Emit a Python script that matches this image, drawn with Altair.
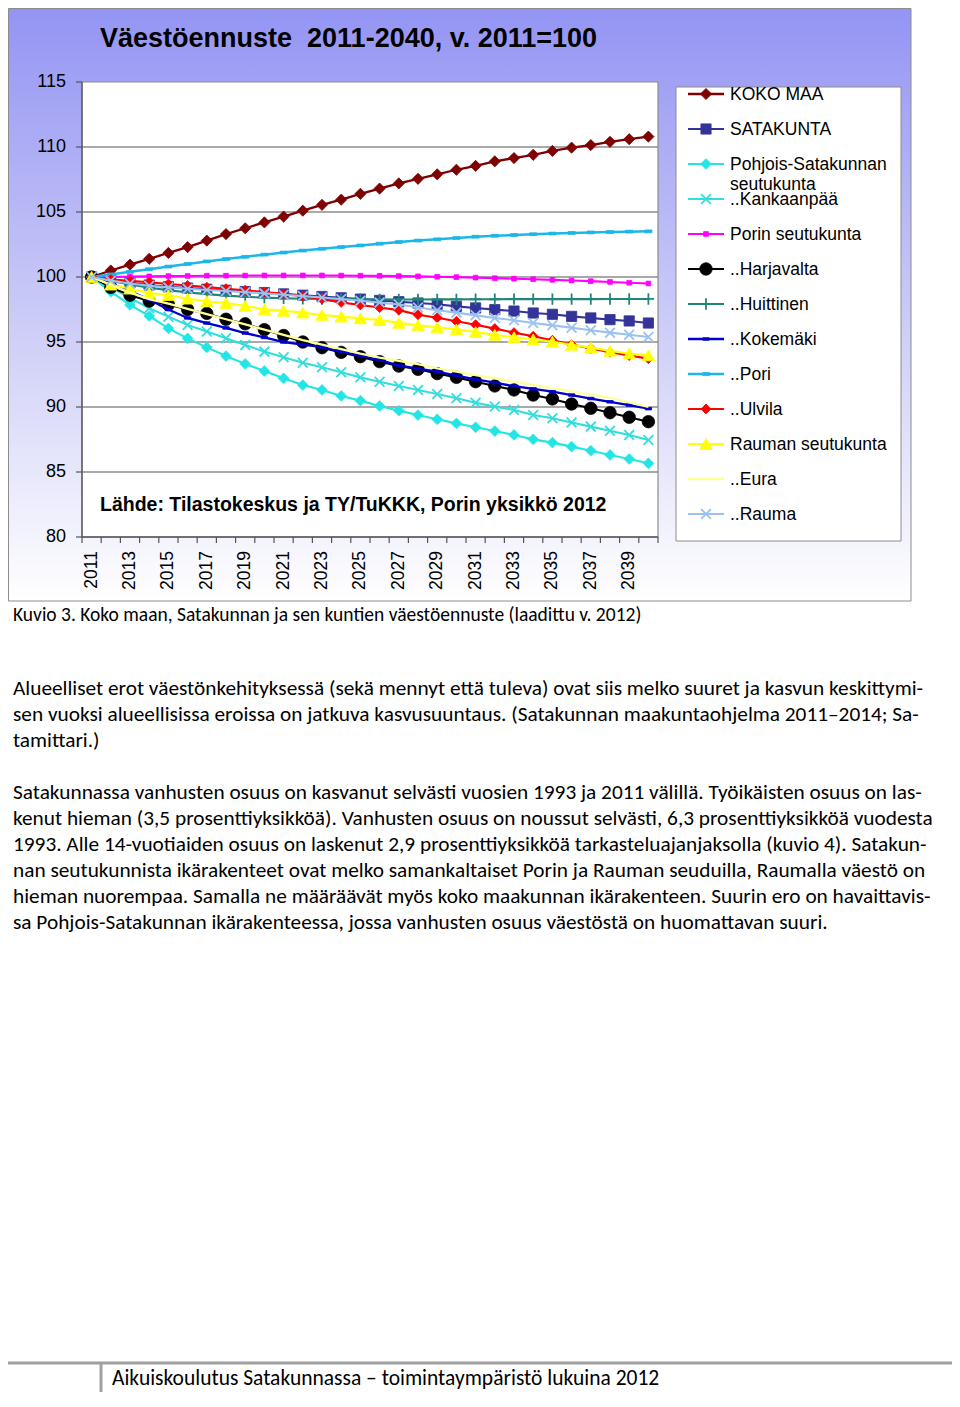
import altair as alt
import pandas as pd

# ---------------- data ----------------
years = list(range(2011, 2041))
series_names = ["KOKO MAA", "SATAKUNTA", "Pohjois-Satakunnan seutukunta", "..Kankaanpää",
                "Porin seutukunta", "..Harjavalta", "..Huittinen", "..Kokemäki", "..Pori",
                "..Ulvila", "Rauman seutukunta", "..Eura", "..Rauma"]
legend_labels = ["KOKO MAA", "SATAKUNTA", "Pohjois-Satakunnan\nseutukunta", "..Kankaanpää",
                 "Porin seutukunta", "..Harjavalta", "..Huittinen", "..Kokemäki", "..Pori",
                 "..Ulvila", "Rauman seutukunta", "..Eura", "..Rauma"]

koko_maa = [100, 100.5, 100.95, 101.4, 101.85, 102.3, 102.8, 103.3, 103.75, 104.2,
            104.65, 105.1, 105.55, 105.95, 106.4, 106.8, 107.2, 107.55, 107.9, 108.25,
            108.55, 108.9, 109.15, 109.4, 109.7, 109.95, 110.15, 110.4, 110.6, 110.8]
satakunta = [100, 99.75, 99.55, 99.38, 99.25, 99.15, 99.06, 98.98, 98.88, 98.8,
             98.7, 98.6, 98.5, 98.4, 98.3, 98.2, 98.1, 98.0, 97.9, 97.74,
             97.62, 97.49, 97.38, 97.23, 97.13, 96.97, 96.85, 96.72, 96.62, 96.46]
pohjois_sk = [100, 98.87, 97.85, 97.0, 96.05, 95.28, 94.59, 93.92, 93.31, 92.77,
              92.21, 91.69, 91.31, 90.85, 90.49, 90.08, 89.72, 89.38, 89.05, 88.74,
              88.44, 88.15, 87.85, 87.51, 87.26, 86.95, 86.64, 86.31, 86.0, 85.67]
kankaanpaa = [100, 99.2, 98.4, 97.6, 96.95, 96.31, 95.8, 95.28, 94.77, 94.26,
              93.82, 93.41, 93.05, 92.67, 92.28, 91.95, 91.62, 91.31, 91.0, 90.67,
              90.33, 90.03, 89.77, 89.38, 89.13, 88.8, 88.49, 88.18, 87.85, 87.46]
porin_sk = [100, 100.0, 100.03, 100.05, 100.07, 100.08, 100.1, 100.1, 100.11, 100.12,
            100.12, 100.12, 100.12, 100.11, 100.1, 100.09, 100.07, 100.05, 100.02, 99.99,
            99.95, 99.91, 99.87, 99.83, 99.78, 99.73, 99.68, 99.62, 99.56, 99.5]
harjavalta = [100, 99.2, 98.6, 98.15, 97.88, 97.5, 97.2, 96.75, 96.4, 95.95,
              95.5, 95.0, 94.56, 94.2, 93.87, 93.49, 93.15, 92.9, 92.57, 92.28,
              91.95, 91.62, 91.31, 90.92, 90.62, 90.23, 89.9, 89.56, 89.21, 88.87]
huittinen = [100, 99.7, 99.42, 99.18, 98.98, 98.82, 98.68, 98.57, 98.48, 98.41,
             98.36, 98.33, 98.31, 98.3, 98.29, 98.28, 98.27, 98.27, 98.28, 98.28,
             98.29, 98.29, 98.3, 98.3, 98.3, 98.3, 98.3, 98.31, 98.31, 98.31]
kokemaki = [100, 99.5, 98.9, 98.26, 97.5, 96.85, 96.46, 96.08, 95.69, 95.35,
            95.0, 94.8, 94.6, 94.25, 93.95, 93.6, 93.2, 92.95, 92.72, 92.42,
            92.13, 91.87, 91.6, 91.4, 91.18, 90.92, 90.65, 90.4, 90.15, 89.87]
pori = [100, 100.2, 100.4, 100.6, 100.8, 101.0, 101.2, 101.38, 101.55, 101.72,
        101.88, 102.03, 102.17, 102.3, 102.43, 102.56, 102.69, 102.8, 102.9, 103.0,
        103.1, 103.17, 103.23, 103.29, 103.34, 103.39, 103.43, 103.46, 103.49, 103.51]
ulvila = [100, 99.8, 99.7, 99.6, 99.46, 99.35, 99.22, 99.1, 98.98, 98.85,
          98.7, 98.52, 98.3, 98.05, 97.85, 97.65, 97.45, 97.1, 96.87, 96.59,
          96.33, 96.03, 95.72, 95.44, 95.13, 94.8, 94.5, 94.22, 93.96, 93.72]
rauman_sk = [100, 99.41, 99.1, 98.77, 98.6, 98.33, 98.13, 98.0, 97.77, 97.51,
             97.4, 97.26, 97.08, 96.95, 96.82, 96.69, 96.47, 96.28, 96.13, 95.97,
             95.77, 95.55, 95.37, 95.2, 95.02, 94.78, 94.57, 94.32, 94.12, 93.97]
eura = [100, 99.4, 98.8, 98.3, 97.95, 97.55, 97.15, 96.75, 96.35, 95.95,
        95.55, 95.15, 94.8, 94.45, 94.1, 93.8, 93.55, 93.3, 92.98, 92.72,
        92.46, 92.2, 91.95, 91.7, 91.45, 91.2, 90.95, 90.7, 90.35, 90.0]
rauma = [100, 99.72, 99.5, 99.33, 99.2, 99.1, 99.0, 98.92, 98.83, 98.74,
         98.64, 98.53, 98.42, 98.3, 98.17, 98.03, 97.88, 97.65, 97.44, 97.26,
         97.05, 96.85, 96.67, 96.46, 96.28, 96.1, 95.9, 95.72, 95.56, 95.38]

series_values = [koko_maa, satakunta, pohjois_sk, kankaanpaa, porin_sk, harjavalta,
                 huittinen, kokemaki, pori, ulvila, rauman_sk, eura, rauma]

y_ticks = [80, 85, 90, 95, 100, 105, 110, 115]
x_labels = years[::2]

title_text = "Väestöennuste\u00a0 2011-2040, v. 2011=100"
source_text = "Lähde: Tilastokeskus ja TY/TuKKK, Porin yksikkö 2012"
caption_text = "Kuvio 3. Koko maan, Satakunnan ja sen kuntien väestöennuste (laadittu v. 2012)"
para1 = [
    "Alueelliset erot väestönkehityksessä (sekä mennyt että tuleva) ovat siis melko suuret ja kasvun keskittymi-",
    "sen vuoksi alueellisissa eroissa on jatkuva kasvusuuntaus. (Satakunnan maakuntaohjelma 2011–2014; Sa-",
    "tamittari.)",
]
para2 = [
    "Satakunnassa vanhusten osuus on kasvanut selvästi vuosien 1993 ja 2011 välillä. Työikäisten osuus on las-",
    "kenut hieman (3,5 prosenttiyksikköä). Vanhusten osuus on noussut selvästi, 6,3 prosenttiyksikköä vuodesta",
    "1993. Alle 14-vuotiaiden osuus on laskenut 2,9 prosenttiyksikköä tarkasteluajanjaksolla (kuvio 4). Satakun-",
    "nan seutukunnista ikärakenteet ovat melko samankaltaiset Porin ja Rauman seuduilla, Raumalla väestö on",
    "hieman nuorempaa. Samalla ne määräävät myös koko maakunnan ikärakenteen. Suurin ero on havaittavis-",
    "sa Pohjois-Satakunnan ikärakenteessa, jossa vanhusten osuus väestöstä on huomattavan suuri.",
]
footer_text = "Aikuiskoulutus Satakunnassa – toimintaympäristö lukuina 2012"

# ---------------- styles ----------------
X_PATH = "M-1,-1L1,1M-1,1L1,-1"
PLUS_PATH = "M0,-1L0,1M-1,0L1,0"
DASH_PATH = "M-1,-0.4L1,-0.4L1,0.4L-1,0.4Z"

styles = [
    dict(color="#7F0000", shape="diamond", size=125, filled=True, lw=2.3),
    dict(color="#333399", shape="square", size=105, filled=True, lw=2.1),
    dict(color="#22E6E6", shape="diamond", size=115, filled=True, lw=2.1),
    dict(color="#33DDDD", shape=X_PATH, size=95, filled=False, lw=2.1),
    dict(color="#FF00FF", shape="square", size=22, filled=True, lw=2.1),
    dict(color="#000000", shape="circle", size=155, filled=True, lw=2.1),
    dict(color="#21857A", shape=PLUS_PATH, size=130, filled=False, lw=2.1),
    dict(color="#0000CC", shape=DASH_PATH, size=40, filled=True, lw=2.3),
    dict(color="#1CB6E8", shape=DASH_PATH, size=50, filled=True, lw=2.5),
    dict(color="#FF0000", shape="diamond", size=100, filled=True, lw=2.1),
    dict(color="#FFFF00", shape="triangle-up", size=155, filled=True, lw=2.1),
    dict(color="#FFFF99", shape=None, size=0, filled=True, lw=2.3),
    dict(color="#99C2EE", shape=X_PATH, size=95, filled=False, lw=2.1),
]

ARIAL = "Liberation Sans"
BODY = "Carlito, Lato"

W, H = 944, 1384
# plot area in chart coordinates
PX0, PX1, PY0, PY1 = 74, 650, 74, 529

xs = alt.Scale(domain=[years[0] - 0.5, years[-1] + 0.5], range=[PX0, PX1])
ys = alt.Scale(domain=[y_ticks[0], y_ticks[-1]], range=[PY1, PY0])

one = pd.DataFrame({"a": [0]})
layers = []

# outer gradient box
grad = alt.Gradient(gradient="linear", x1=0, x2=0, y1=0, y2=1,
                    stops=[alt.GradientStop(color="#9494F4", offset=0),
                           alt.GradientStop(color="#C9C9F7", offset=0.5),
                           alt.GradientStop(color="#FFFFFF", offset=1)])
layers.append(alt.Chart(one).mark_rect(fill=grad, stroke="#8C8C8C", strokeWidth=1).encode(
    x=alt.value(0.5), x2=alt.value(903), y=alt.value(0.5), y2=alt.value(593)))

# plot area
layers.append(alt.Chart(one).mark_rect(fill="white", stroke="#8C8C8C", strokeWidth=1.2).encode(
    x=alt.value(PX0), x2=alt.value(PX1), y=alt.value(PY0), y2=alt.value(PY1)))

# gridlines
grid_df = pd.DataFrame({"v": y_ticks[1:-1]})
layers.append(alt.Chart(grid_df).mark_rule(color="#8C8C8C", strokeWidth=1.3).encode(
    y=alt.Y("v:Q", scale=ys, axis=None), x=alt.value(PX0), x2=alt.value(PX1)))

# y axis line, ticks, labels
layers.append(alt.Chart(one).mark_rule(color="#555555", strokeWidth=1.3).encode(
    x=alt.value(PX0), y=alt.value(PY0), y2=alt.value(PY1)))
ytick_df = pd.DataFrame({"v": y_ticks})
layers.append(alt.Chart(ytick_df).mark_rule(color="#555555", strokeWidth=1.2).encode(
    y=alt.Y("v:Q", scale=ys, axis=None), x=alt.value(PX0 - 6), x2=alt.value(PX0)))
layers.append(alt.Chart(ytick_df).mark_text(font=ARIAL, fontSize=18, align="right",
                                            baseline="middle", color="#000000").encode(
    y=alt.Y("v:Q", scale=ys, axis=None), x=alt.value(58), text="v:Q"))

# x axis line, ticks, labels
layers.append(alt.Chart(one).mark_rule(color="#555555", strokeWidth=1.3).encode(
    x=alt.value(PX0), x2=alt.value(PX1), y=alt.value(PY1)))
xtick_df = pd.DataFrame({"b": [y - 0.5 for y in years] + [years[-1] + 0.5]})
layers.append(alt.Chart(xtick_df).mark_rule(color="#555555", strokeWidth=1.2).encode(
    x=alt.X("b:Q", scale=xs, axis=None), y=alt.value(PY1), y2=alt.value(PY1 + 6)))
xlab_df = pd.DataFrame({"yr": x_labels, "t": [str(v) for v in x_labels]})
layers.append(alt.Chart(xlab_df).mark_text(font=ARIAL, fontSize=17.5, align="right", baseline="middle",
                                           angle=270, color="#000000").encode(
    x=alt.X("yr:Q", scale=xs, axis=None), y=alt.value(543), text="t:N"))

# series
for name, vals, st in zip(series_names, series_values, styles):
    df = pd.DataFrame({"year": years, "value": vals})
    enc = dict(x=alt.X("year:Q", scale=xs, axis=None), y=alt.Y("value:Q", scale=ys, axis=None))
    layers.append(alt.Chart(df).mark_line(color=st["color"], strokeWidth=st["lw"]).encode(**enc))
    if st["shape"]:
        if st["filled"]:
            pm = alt.Chart(df).mark_point(shape=st["shape"], size=st["size"], filled=True,
                                          fill=st["color"], stroke=st["color"], strokeWidth=0.8, opacity=1)
        else:
            pm = alt.Chart(df).mark_point(shape=st["shape"], size=st["size"], filled=False,
                                          stroke=st["color"], strokeWidth=1.8, opacity=1)
        layers.append(pm.encode(**enc))

# titles inside the box
layers.append(alt.Chart(pd.DataFrame({"t": [title_text]})).mark_text(
    font=ARIAL, fontSize=27, fontWeight="bold", align="left", baseline="middle", color="#000000").encode(
    x=alt.value(92), y=alt.value(31), text="t:N"))
layers.append(alt.Chart(pd.DataFrame({"t": [source_text]})).mark_text(
    font=ARIAL, fontSize=19.5, fontWeight="bold", align="left", baseline="middle", color="#000000").encode(
    x=alt.value(92), y=alt.value(497), text="t:N"))

# legend
layers.append(alt.Chart(one).mark_rect(fill="white", stroke="#8C8C8C", strokeWidth=1).encode(
    x=alt.value(668), x2=alt.value(893), y=alt.value(79), y2=alt.value(533)))
ls = alt.Scale(domain=[0, len(series_names) - 1], range=[86, 86 + 35 * (len(series_names) - 1)])
for i, st in enumerate(styles):
    ldf = pd.DataFrame({"li": [i]})
    layers.append(alt.Chart(ldf).mark_rule(color=st["color"], strokeWidth=st["lw"]).encode(
        y=alt.Y("li:Q", scale=ls, axis=None), x=alt.value(680), x2=alt.value(716)))
    if st["shape"]:
        if st["filled"]:
            pm = alt.Chart(ldf).mark_point(shape=st["shape"], size=st["size"], filled=True,
                                           fill=st["color"], stroke=st["color"], strokeWidth=0.8, opacity=1)
        else:
            pm = alt.Chart(ldf).mark_point(shape=st["shape"], size=st["size"], filled=False,
                                           stroke=st["color"], strokeWidth=1.8, opacity=1)
        layers.append(pm.encode(y=alt.Y("li:Q", scale=ls, axis=None), x=alt.value(698)))
leg_df = pd.DataFrame({"li": list(range(len(legend_labels))), "t": legend_labels})
layers.append(alt.Chart(leg_df).mark_text(font=ARIAL, fontSize=17.5, align="left", baseline="alphabetic",
                                          lineBreak="\n", lineHeight=20, dy=6, color="#000000").encode(
    y=alt.Y("li:Q", scale=ls, axis=None), x=alt.value(722), text="t:N"))

# caption and body text
layers.append(alt.Chart(pd.DataFrame({"t": [caption_text]})).mark_text(
    font=BODY, fontSize=19.5, align="left", baseline="middle", color="#000000").encode(
    x=alt.value(5), y=alt.value(607), text="t:N"))
p1 = pd.DataFrame({"i": list(range(len(para1))), "t": para1})
layers.append(alt.Chart(p1).mark_text(font=BODY, fontSize=21.3, align="left", baseline="middle",
                                      color="#000000").encode(
    y=alt.Y("i:Q", scale=alt.Scale(domain=[0, len(para1) - 1], range=[681, 681 + 26 * (len(para1) - 1)]), axis=None),
    x=alt.value(5), text="t:N"))
p2 = pd.DataFrame({"i": list(range(len(para2))), "t": para2})
layers.append(alt.Chart(p2).mark_text(font=BODY, fontSize=21.3, align="left", baseline="middle",
                                      color="#000000").encode(
    y=alt.Y("i:Q", scale=alt.Scale(domain=[0, len(para2) - 1], range=[785, 785 + 26 * (len(para2) - 1)]), axis=None),
    x=alt.value(5), text="t:N"))

# footer
layers.append(alt.Chart(one).mark_rule(color="#A0A0A0", strokeWidth=3).encode(
    x=alt.value(0), x2=alt.value(W), y=alt.value(1355)))
layers.append(alt.Chart(one).mark_rule(color="#A0A0A0", strokeWidth=3).encode(
    x=alt.value(93), y=alt.value(1355), y2=alt.value(H)))
layers.append(alt.Chart(pd.DataFrame({"t": [footer_text]})).mark_text(
    font=BODY, fontSize=21.5, align="left", baseline="middle", color="#000000").encode(
    x=alt.value(104), y=alt.value(1371), text="t:N"))

chart = alt.layer(*layers).resolve_scale(x="independent", y="independent").properties(
    width=W, height=H, autosize=alt.AutoSizeParams(type="none"), padding=0
).configure_view(strokeWidth=0)

chart.save("out.html", embed_options={"renderer": "svg", "actions": False})
